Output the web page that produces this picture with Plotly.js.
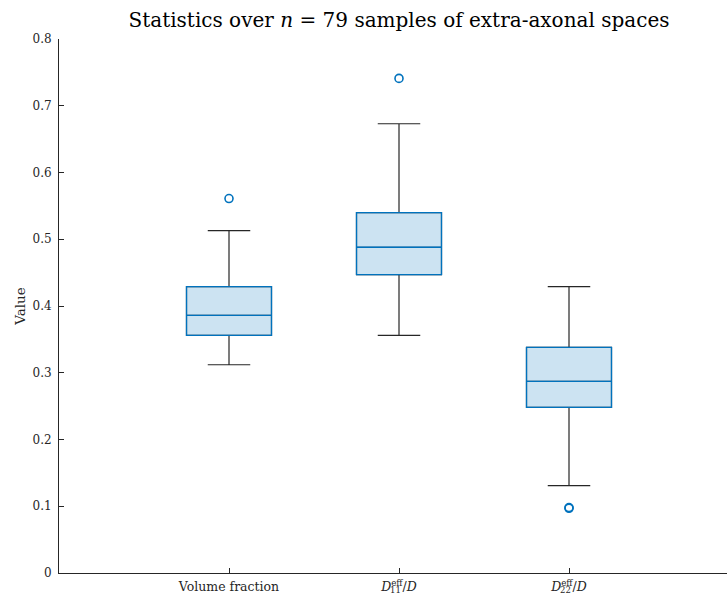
<!DOCTYPE html>
<html>
<head>
<meta charset="utf-8">
<script src="https://cdn.plot.ly/plotly-3.0.1.min.js"></script>
<style>
  html, body { margin: 0; padding: 0; overflow: hidden; background: #fff; }
  #chart { width: 727px; height: 595px; }
</style>
</head>
<body>
<div id="chart"></div>
<script>
// Summary statistics of each quantity (n = 79 samples)
const categories = [1, 2, 3];
const tickLabels = [
  'Volume fraction',
  '<i>D</i><sup>eff</sup>/<i>D</i>',
  '<i>D</i><sup>eff</sup>/<i>D</i>'
];
const subLabels = ['', '11', '22'];
const lowerWhisker = [0.312, 0.356, 0.131];
const q1Values     = [0.356, 0.447, 0.248];
const medianValues = [0.386, 0.488, 0.287];
const q3Values     = [0.429, 0.540, 0.338];
const upperWhisker = [0.513, 0.673, 0.429];
const outlierX = [1, 2, 3, 3];
const outlierY = [0.561, 0.741, 0.098, 0.097];

const blue = '#0072BD';
const dark = '#262626';
const serif = '"DejaVu Serif", "Liberation Serif", serif';

// Whiskers with caps (dark), drawn underneath the boxes
const whiskers = {
  type: 'box',
  x: categories,
  q1: q1Values, median: medianValues, q3: q3Values,
  lowerfence: lowerWhisker, upperfence: upperWhisker,
  width: 0.5, whiskerwidth: 0.5,
  line: { color: dark, width: 1.2 },
  fillcolor: 'rgba(0,0,0,0)',
  boxpoints: false, hoverinfo: 'skip', showlegend: false
};

// Interquartile boxes with median line
const boxes = {
  type: 'box',
  x: categories,
  q1: q1Values, median: medianValues, q3: q3Values,
  lowerfence: q1Values, upperfence: q3Values,
  width: 0.5, whiskerwidth: 0,
  line: { color: blue, width: 1.3 },
  fillcolor: 'rgba(0,114,189,0.2)',
  boxpoints: false, hoverinfo: 'skip', showlegend: false
};

const outliers = {
  type: 'scatter', mode: 'markers',
  x: outlierX, y: outlierY,
  marker: { symbol: 'circle-open', size: 8, color: blue, line: { width: 1.6, color: blue } },
  hoverinfo: 'skip', showlegend: false
};

// Stacked subscripts under "eff" in the diffusivity labels
const subAnnotations = categories.map((c, i) => ({
  x: c, y: 0, xref: 'x', yref: 'paper',
  text: subLabels[i], showarrow: false,
  font: { family: serif, size: 8.5, color: dark },
  xanchor: 'center', yanchor: 'middle',
  xshift: -4, yshift: -17
})).filter(a => a.text);

const layout = {
  width: 727, height: 595,
  margin: { l: 59, r: 0, t: 39, b: 22 },
  paper_bgcolor: '#fff', plot_bgcolor: '#fff',
  boxmode: 'overlay',
  title: {
    text: 'Statistics over <i>n</i> = 79 samples of extra-axonal spaces',
    font: { family: serif, size: 20, color: '#000' },
    x: 399 / 727, xanchor: 'center', xref: 'container',
    y: 1 - 20 / 595, yanchor: 'middle', yref: 'container'
  },
  xaxis: {
    range: [0, 668 / 170],
    tickmode: 'array', tickvals: categories, ticktext: tickLabels,
    ticks: 'inside', ticklen: 5, tickcolor: dark, tickwidth: 1,
    ticklabelstandoff: 2,
    showline: true, linecolor: dark, linewidth: 1,
    showgrid: false, zeroline: false,
    tickfont: { family: serif, size: 12.5, color: dark }
  },
  yaxis: {
    range: [0, 0.8],
    tickvals: [0, 0.1, 0.2, 0.3, 0.4, 0.5, 0.6, 0.7, 0.8],
    ticktext: ['0', '0.1', '0.2', '0.3', '0.4', '0.5', '0.6', '0.7', '0.8'],
    ticks: 'inside', ticklen: 5, tickcolor: dark, tickwidth: 1,
    ticklabelstandoff: 4,
    showline: true, linecolor: dark, linewidth: 1,
    showgrid: false, zeroline: false,
    tickfont: { family: serif, size: 12, color: dark },
    title: { text: 'Value', font: { family: serif, size: 13.5, color: dark }, standoff: 3 }
  },
  annotations: subAnnotations
};

Plotly.newPlot('chart', [whiskers, boxes, outliers], layout, { staticPlot: true, displayModeBar: false });
</script>
</body>
</html>
